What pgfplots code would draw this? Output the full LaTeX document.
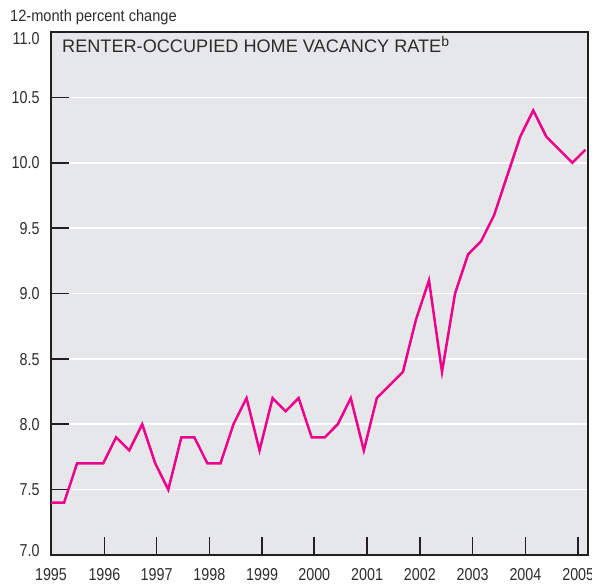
\documentclass[border=0pt]{standalone}
\usepackage{fontspec}
\setmainfont{Liberation Sans}[FakeStretch=0.83]
\newfontfamily\normfont{Liberation Sans}
\newfontfamily\labfont{Liberation Sans}[FakeStretch=0.9]
\usepackage{pgfplots}
\pgfplotsset{compat=1.18}
\definecolor{bgc}{HTML}{E6E7E9}
\definecolor{mag}{HTML}{EC008C}
\definecolor{axc}{HTML}{231F20}
\definecolor{txt}{HTML}{2E2B2C}
\newcommand{\yl}[2]{\smash{\raisebox{#1}{#2}}}
\begin{document}
\begin{tikzpicture}
\begin{axis}[
  scale only axis,
  width=537bp, height=523bp,
  xmin=0, xmax=41.2,
  ymin=7, ymax=11,
  axis background/.style={fill=bgc},
  axis line style={draw=axc, line width=1.6bp},
  xtick={0,4.1,8.1,12.15,16.2,20.2,24.25,28.3,32.35,36.4,40.45},
  xticklabels={1995,1996,1997,1998,1999,2000,2001,2002,2003,2004,2005},
  ytick={7,7.5,8,8.5,9,9.5,10,10.5,11},
  yticklabels={\yl{-1.5bp}{7.0},\yl{-6.2bp}{7.5},\yl{-6.2bp}{8.0},\yl{-6.2bp}{8.5},\yl{-6.2bp}{9.0},\yl{-6.2bp}{9.5},\yl{-6.2bp}{10.0},\yl{-6.2bp}{10.5},\yl{-12.5bp}{11.0}},
  tick align=inside,
  xtick pos=bottom, ytick pos=left,
  major tick length=18bp,
  tick style={draw=axc, line width=1.6bp},
  ymajorgrids,
  major grid style={draw=white, line width=1.6bp},
  tick label style={font=\fontsize{17.3}{17.3}\selectfont, text=txt},
  yticklabel style={xshift=-8bp},
  xticklabel style={yshift=-10bp},
  clip=false,
]
\addplot[mag, line width=2.5bp, line join=miter] coordinates {
(0,7.4)(1,7.4)(2,7.7)(3,7.7)(4,7.7)(5,7.9)(6,7.8)(7,8.0)(8,7.7)(9,7.5)
(10,7.9)(11,7.9)(12,7.7)(13,7.7)(14,8.0)(15,8.2)(16,7.8)(17,8.2)(18,8.1)(19,8.2)
(20,7.9)(21,7.9)(22,8.0)(23,8.2)(24,7.8)(25,8.2)(26,8.3)(27,8.4)(28,8.8)(29,9.1)
(30,8.4)(31,9.0)(32,9.3)(33,9.4)(34,9.6)(35,9.9)(36,10.2)(37,10.4)(38,10.2)(39,10.1)
(40,10.0)(41,10.1)
};
\node[anchor=base west, inner sep=0pt, text=txt, font=\labfont\fontsize{16.3}{16.3}\selectfont] at (rel axis cs:0,1) [xshift=-41bp, yshift=10.5bp] {12-month percent change};
\node[anchor=base west, inner sep=0pt, text=txt, font=\normfont\fontsize{18.2}{18.2}\selectfont] at (rel axis cs:0,1) [xshift=11bp, yshift=-21bp] {RENTER-OCCUPIED HOME VACANCY RATE\textsuperscript{\fontsize{14}{14}\selectfont b}};
\end{axis}
\pgfresetboundingbox
\path[use as bounding box] ([xshift=-51bp,yshift=-31bp]current axis.south west) rectangle ([xshift=4bp,yshift=32bp]current axis.north east);
\end{tikzpicture}
\end{document}
